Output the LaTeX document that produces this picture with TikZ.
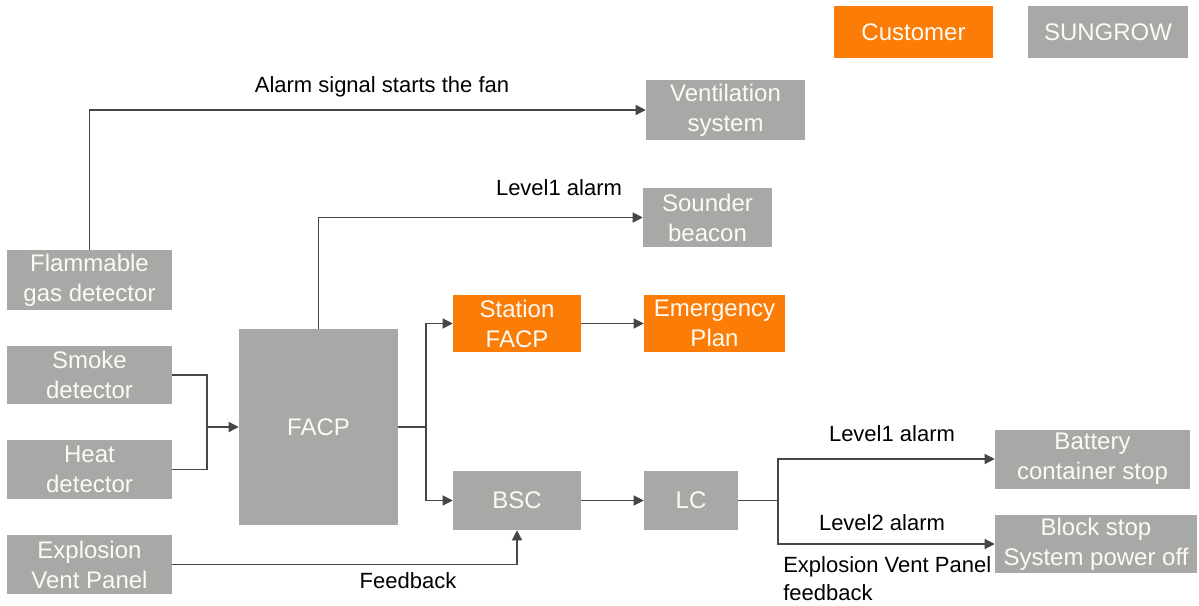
\documentclass[tikz,border=0pt]{standalone}
\usepackage{fontspec}
\setmainfont{Liberation Sans}
\usetikzlibrary{calc,positioning,arrows.meta}

\definecolor{boxgray}{RGB}{167,169,167}
\definecolor{boxorange}{RGB}{252,124,8}
\definecolor{boxtext}{RGB}{252,250,242}
\definecolor{linegray}{RGB}{70,70,70}

\begin{document}
\begin{tikzpicture}[x=0.75pt,y=-0.75pt,
  gbox/.style={fill=boxgray,text=boxtext,inner sep=0pt,align=center,
    font=\fontsize{18}{22.5}\selectfont},
  obox/.style={gbox,fill=boxorange},
  lbl/.style={inner sep=0pt,text=black,font=\fontsize{16.5}{21}\selectfont},
  wire/.style={draw=linegray,line width=0.9pt},
  arr/.style={wire,-{Triangle[length=7.5pt,width=7.5pt]}}]

\useasboundingbox[fill=white] (0,0) rectangle (1199,606);

\node[obox,minimum width=119.25pt,minimum height=39pt] (cust) at (913.5,32) {Customer};
\node[gbox,minimum width=120pt,minimum height=39pt] (sung) at (1108,32) {SUNGROW};

\node[gbox,minimum width=119.25pt,minimum height=45pt] (vent) at (725.5,110) {Ventilation\\system};
\node[gbox,minimum width=96.75pt,minimum height=44.25pt] (sound) at (707.5,217.5) {Sounder\\beacon};

\node[gbox,minimum width=123.75pt,minimum height=45pt] (flam) at (89.5,280) {Flammable\\gas detector};
\node[gbox,minimum width=123.75pt,minimum height=43.5pt] (smoke) at (89.5,375) {Smoke\\detector};
\node[gbox,minimum width=123.75pt,minimum height=44.25pt] (heat) at (89.5,469.5) {Heat\\detector};
\node[gbox,minimum width=123.75pt,minimum height=44.25pt] (expl) at (89.5,564.5) {Explosion\\Vent Panel};

\node[gbox,minimum width=119.25pt,minimum height=147pt] (facp) at (318.5,427) {FACP};

\node[obox,minimum width=96pt,minimum height=42.75pt] (stat) at (517,323.5) {Station\\FACP};
\node[obox,minimum width=105.75pt,minimum height=42.75pt] (emer) at (714.5,323.5) {Emergency\\Plan};
\node[gbox,minimum width=96pt,minimum height=44.25pt] (bsc) at (517,500.5) {BSC};
\node[gbox,minimum width=70.5pt,minimum height=44.25pt] (lc) at (691,500.5) {LC};

\node[gbox,minimum width=146.25pt,minimum height=44.25pt] (batt) at (1092.5,459) {Battery\\container stop};
\node[gbox,minimum width=151.5pt,minimum height=43.5pt] (block) at (1096,544) {Block stop\\System power off};

\coordinate (jin) at (207,427);
\coordinate (jout) at (426,427);
\coordinate (jlc) at (778,500.5);

\draw[arr] (flam.north) |- (vent.west);
\draw[arr] (facp.north) |- (sound.west);

\draw[wire] (smoke.east) -| (jin);
\draw[wire] (heat.east) -| (jin);
\draw[arr] (jin) -- (facp.west);

\draw[wire] (facp.east) -- (jout);
\draw[arr] (jout) |- (stat.west);
\draw[arr] (jout) |- (bsc.west);
\draw[arr] (stat) -- (emer);
\draw[arr] (bsc) -- (lc);

\draw[wire] (lc.east) -- (jlc);
\draw[arr] (jlc) |- (batt.west);
\draw[arr] (jlc) |- (block.west);

\draw[arr] (expl.east) -| (bsc.south);

\node[lbl] (lfan) at (382,87) {Alarm signal starts the fan};
\node[lbl] (lsound) at (559,188) {Level1 alarm};
\node[lbl] (lfeed) at (408,581) {Feedback};
\node[lbl] (lone) at (892,434) {Level1 alarm};
\node[lbl] (ltwo) at (882,523) {Level2 alarm};
\node[lbl,anchor=west,align=left,font=\fontsize{16.5}{21}\selectfont] (lvent) at (783,579) {Explosion Vent Panel\\feedback};

\end{tikzpicture}
\end{document}
